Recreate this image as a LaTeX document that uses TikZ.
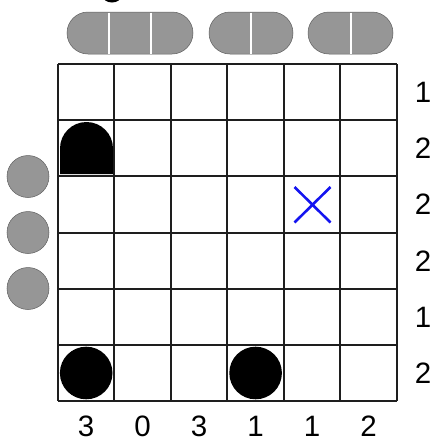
\documentclass[tikz,border=0pt]{standalone}
\usepackage{fontspec}
\setmainfont{Liberation Sans}
\definecolor{pillgray}{RGB}{150,150,150}
\definecolor{pilledge}{RGB}{95,95,95}
\definecolor{crossblue}{RGB}{20,20,240}
\definecolor{gridcol}{RGB}{30,30,30}
\tikzset{
  gridline/.style={draw=gridcol, line width=1.6pt},
  pill/.style={fill=pillgray, draw=pilledge, line width=0.5pt, rounded corners=21pt},
  divider/.style={draw=white, line width=2pt},
  sidedot/.style={fill=pillgray, draw=pilledge, line width=0.5pt},
  stone/.style={fill=black},
  crossmark/.style={draw=crossblue, line width=2.6pt},
  clue/.style={inner sep=0pt, font=\fontsize{29.5}{29.5}\selectfont}
}
\begin{document}
\begin{tikzpicture}[x=1pt,y=-1pt]
\useasboundingbox (0,0) rectangle (437,442);
% cut-off fragment at top
\begin{scope}
  \clip (0,0) rectangle (437,442);
  \fill[stone] (112,-4.5) ellipse (9.5 and 7);
\end{scope}
% top pills
\path[pill] (67,12) rectangle (193,54);
\draw[divider] (109,12.5) -- (109,53.5);
\draw[divider] (151,12.5) -- (151,53.5);
\path[pill] (209,12) rectangle (293,54);
\draw[divider] (251,12.5) -- (251,53.5);
\path[pill] (308,12) rectangle (393,54);
\draw[divider] (350.5,12.5) -- (350.5,53.5);
% left dots
\path[sidedot] (28,176.5) circle (21);
\path[sidedot] (28,232.5) circle (21);
\path[sidedot] (28,288.5) circle (21);
% grid
\foreach \gx in {58,114,171,227,284,340,397} {
  \draw[gridline] (\gx,64) -- (\gx,401);
}
\foreach \gy in {64,120,176,233,289,345,401} {
  \draw[gridline] (58,\gy) -- (397,\gy);
}
% dome in row 2 col 1
\fill[stone] (60,174) -- (60,148.5) arc[start angle=180, end angle=360, radius=26.5] -- (113,174) -- cycle;
% stones in bottom row
\fill[stone] (86.2,373) circle (26.3);
\fill[stone] (255.6,373) circle (26.3);
% blue cross
\draw[crossmark] (294.5,187) -- (330.5,222.5);
\draw[crossmark] (294.5,222.5) -- (330.5,187);
% row clues
\node[clue] (r1) at (423,92.5) {1};
\node[clue] (r2) at (423,148.5) {2};
\node[clue] (r3) at (423,204.5) {2};
\node[clue] (r4) at (423,261) {2};
\node[clue] (r5) at (423,317) {1};
\node[clue] (r6) at (423,373) {2};
% column clues
\node[clue] (c1) at (86.2,426) {3};
\node[clue] (c2) at (142.7,426) {0};
\node[clue] (c3) at (199.1,426) {3};
\node[clue] (c4) at (255.6,426) {1};
\node[clue] (c5) at (312,426) {1};
\node[clue] (c6) at (368.5,426) {2};
\end{tikzpicture}
\end{document}
